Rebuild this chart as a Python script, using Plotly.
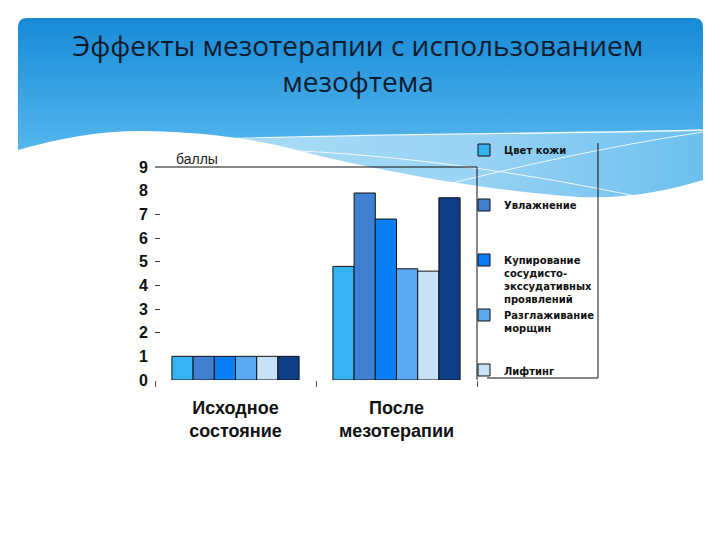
import base64
import plotly.graph_objects as go

categories = ["Исходное<br>состояние", "После<br>мезотерапии"]
series_names = ["Цвет кожи", "Увлажнение", "Купирование<br>сосудисто-<br>экссудативных<br>проявлений",
                "Разглаживание<br>морщин", "Лифтинг", ""]
legend_pad_lines = [3, 3, 0, 2, 0, 0]
values = [
    [1.0, 4.8],
    [1.0, 7.9],
    [1.0, 6.8],
    [1.0, 4.7],
    [1.0, 4.6],
    [1.0, 7.7],
]
colors = ["#36b3f3", "#3f80d2", "#0b7ef4", "#5ba9f0", "#c8e2f5", "#0e3e85"]
show_in_legend = [True, True, True, True, True, False]
y_ticks = list(range(0, 10))
minor_ticks = [2, 3, 4, 5, 6, 7]

W, H = 720, 540
OFF = 8  # page body margin: figure is drawn starting at screen pixel (8, 8)
# plot area in screen pixels
X0, X1, Y0, Y1 = 155, 477, 167, 380
ML, MT = X0 - OFF, Y0 - OFF
MR, MB = W - (X1 - OFF), H - (Y1 - OFF)
PW, PH = X1 - X0, Y1 - Y0


def px(x):
    return (x - X0) / PW


def py(y):
    return (Y1 - y) / PH


svg = f'''<svg xmlns="http://www.w3.org/2000/svg" width="{W}" height="{H}" viewBox="0 0 {W} {H}">
<defs>
<linearGradient id="g" gradientUnits="userSpaceOnUse" x1="0" y1="18" x2="0" y2="155">
<stop offset="0" stop-color="#178ad7"/><stop offset="1" stop-color="#56b8ed"/></linearGradient>
<linearGradient id="p" gradientUnits="userSpaceOnUse" x1="230" y1="0" x2="703" y2="0">
<stop offset="0" stop-color="#a9dbf6"/><stop offset="0.5" stop-color="#9ad3f4"/><stop offset="1" stop-color="#6bc0ee"/></linearGradient>
</defs>
<path d="M18,27 Q18,18 27,18 L694,18 Q703,18 703,27 L703,540 L18,540 Z" fill="url(#g)"/>
<path d="M220,140 C400,133 560,134 703,130 L703,230 L220,230 Z" fill="url(#p)"/>
<path d="M18,150 C60,138 100,131 140,131 C220,132 270,142 320,156 C400,175 500,192 580,197 C630,199 670,190 703,180 L703,540 L18,540 Z" fill="#ffffff"/>
<path d="M220,139 C400,133 560,134 703,130" stroke="#ffffff" stroke-width="1.3" fill="none" opacity="0.9"/>
<path d="M300,151 C420,157 540,176 640,197" stroke="#ffffff" stroke-width="1" fill="none" opacity="0.85"/>
<path d="M440,186 C520,166 610,146 703,132" stroke="#ffffff" stroke-width="1" fill="none" opacity="0.85"/>
</svg>'''
bg_uri = "data:image/svg+xml;base64," + base64.b64encode(svg.encode("utf-8")).decode("ascii")

fig = go.Figure()
for i, (name, vals) in enumerate(zip(series_names, values)):
    label = name + "<br>\u00a0" * legend_pad_lines[i]
    fig.add_trace(go.Bar(
        x=categories, y=vals, name=label,
        marker=dict(color=colors[i], line=dict(color="#111111", width=1)),
        showlegend=show_in_legend[i],
    ))
fig.add_trace(go.Scatter(x=categories, y=[None, None], yaxis="y2", showlegend=False, hoverinfo="skip"))

fig.update_layout(
    width=W, height=H,
    margin=dict(l=ML, r=MR, t=MT, b=MB, autoexpand=False),
    paper_bgcolor="white", plot_bgcolor="rgba(0,0,0,0)",
    barmode="group", bargap=0.21, bargroupgap=0,
    font=dict(family="Liberation Sans, Arial, sans-serif", color="#111111"),
    title=dict(
        text="Эффекты мезотерапии с использованием<br>мезофтема",
        x=(358 - OFF) / W, xanchor="center", y=1 - 48 / H, yanchor="top",
        font=dict(family="Open Sans", size=28, color="#0f1a2c"),
    ),
    xaxis=dict(
        showgrid=False, showline=False, zeroline=False,
        ticks="outside", tickson="boundaries", ticklen=6, tickcolor="#555555",
        tickfont=dict(size=18, family="Liberation Sans, Arial", weight="bold", color="#111111"),
        ticklabelstandoff=15,
    ),
    yaxis=dict(
        range=[0, 9], tickvals=y_ticks, showgrid=False, zeroline=False, showline=False,
        ticks="", tickfont=dict(size=16, family="Liberation Sans, Arial", weight="bold", color="#111111"),
        ticklabelstandoff=6,
    ),
    yaxis2=dict(
        range=[0, 9], overlaying="y", side="left", tickvals=minor_ticks,
        showticklabels=False, ticks="inside", ticklen=5, tickcolor="#333333",
        showgrid=False, zeroline=False, showline=False,
    ),
    legend=dict(
        x=px(464), y=py(137), xanchor="left", yanchor="top",
        bgcolor="rgba(0,0,0,0)", borderwidth=0, valign="top",
        font=dict(size=10, family="DejaVu Sans", weight="bold", color="#111111"),
        itemclick=False, itemdoubleclick=False,
    ),
    images=[dict(
        source=bg_uri, xref="paper", yref="paper",
        x=px(0), y=py(0), sizex=W / PW, sizey=H / PH, xanchor="left", yanchor="top",
        sizing="stretch", layer="below",
    )],
    shapes=[
        dict(type="line", xref="x domain", yref="y domain", x0=0, x1=1, y0=1, y1=1,
             line=dict(color="#111111", width=1)),
        dict(type="line", xref="x domain", yref="y domain", x0=1, x1=1, y0=0, y1=1,
             line=dict(color="#111111", width=1)),
        dict(type="line", xref="paper", yref="paper", x0=px(598), x1=px(598), y0=py(143), y1=py(378),
             line=dict(color="#111111", width=1)),
        dict(type="line", xref="paper", yref="paper", x0=px(487), x1=px(598), y0=py(378), y1=py(378),
             line=dict(color="#111111", width=1)),
    ],
    annotations=[dict(
        text="баллы", xref="paper", yref="paper", x=px(174), y=py(159),
        xanchor="left", yanchor="middle", showarrow=False,
        font=dict(size=14, family="Liberation Sans, Arial", color="#222222"),
    )],
)

fig.write_html("out.html")
